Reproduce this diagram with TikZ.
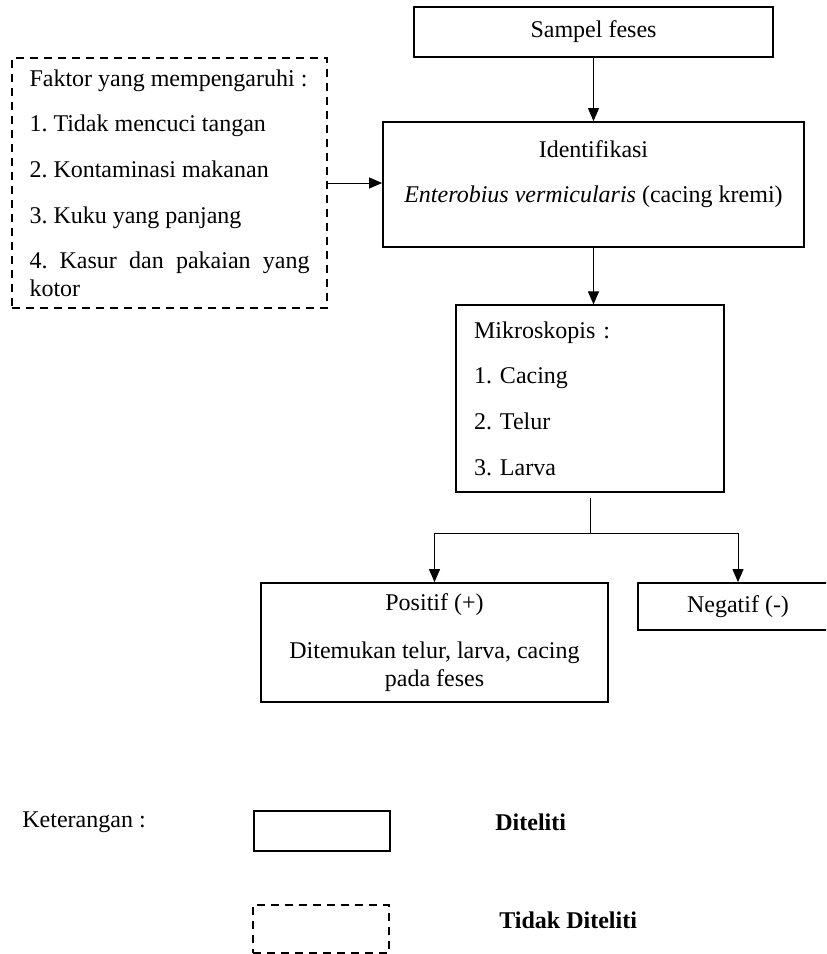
\documentclass[tikz,border=0pt]{standalone}
\usepackage{fontspec}
\setmainfont{Liberation Serif}
\frenchspacing
\usetikzlibrary{arrows.meta}
\tikzset{
  box/.style={draw, line width=0.9pt, inner sep=0pt, align=center, font=\fontsize{12}{13.8}\selectfont},
  dashbox/.style={box, dash pattern=on 4pt off 3pt},
  lbl/.style={anchor=west, inner sep=0pt, font=\fontsize{12}{13.8}\selectfont},
  arr/.style={line width=0.5pt, -{Triangle[width=5.5pt,length=6.5pt]}}
}

\begin{document}
\begin{tikzpicture}[x=0.5pt,y=-0.5pt]
        \useasboundingbox (0,0) rectangle (826,954);
        \clip (0,0) rectangle (826,954);
        %nodes
        \node[box, minimum width=179.5pt, minimum height=25pt] (sampel) at (593.5,32) {Sampel feses};
        \node[dashbox, minimum width=157.5pt, minimum height=125pt, text width=140pt, align=justify] (faktor) at (169.5,183)
          {Faktor yang mempengaruhi :\\[9pt] 1. Tidak mencuci tangan\\[9pt] 2. Kontaminasi makanan\\[9pt] 3. Kuku yang panjang\\[9pt] 4. Kasur dan pakaian yang kotor};
        \node[box, minimum width=210.5pt, minimum height=62.5pt, text depth=13pt] (ident) at (593.5,184.5)
          {Identifikasi\\[9pt] \textit{Enterobius vermicularis} (cacing kremi)};
        \node[box, line width=0.6pt, minimum width=134pt, minimum height=93.5pt, text width=116pt, inner xsep=9pt, align=left] (mikro) at (590,398.5)
          {Mikroskopis :\\[9pt] 1. Cacing\\[9pt] 2. Telur\\[9pt] 3. Larva};
        \node[box, minimum width=173.5pt, minimum height=59.5pt] (positif) at (434.5,642.5)
          {Positif (+)\\[10pt] Ditemukan telur, larva, cacing\\ pada feses};
        \node[box, minimum width=100pt, minimum height=23.5pt] (negatif) at (738,606.5) {Negatif (-)};
        \coordinate (split) at (590,533);
        %legend
        \node[lbl] (ket) at (22,822) {Keterangan :};
        \node[box, minimum width=68pt, minimum height=20pt] (legsolid) at (322,831) {};
        \node[dashbox, minimum width=68pt, minimum height=24pt] (legdash) at (321,929) {};
        \node[lbl, font=\fontsize{12}{13.8}\selectfont\bfseries] (diteliti) at (495,822) {Diteliti};
        \node[lbl, font=\fontsize{12}{13.8}\selectfont\bfseries] (tidak) at (499,920) {Tidak Diteliti};
        %edges
        \draw[arr] (sampel) -- (ident);
        \draw[arr] (faktor.east) -- (faktor.east -| ident.west);
        \draw[arr] (ident.south) -- (ident.south |- mikro.north);
        \draw[line width=0.5pt] ([yshift=-2.5pt]mikro.south) -- (split);
        \draw[arr] (split) -| (positif.north);
        \draw[arr] (split) -| (negatif.north);
\end{tikzpicture}
\end{document}
